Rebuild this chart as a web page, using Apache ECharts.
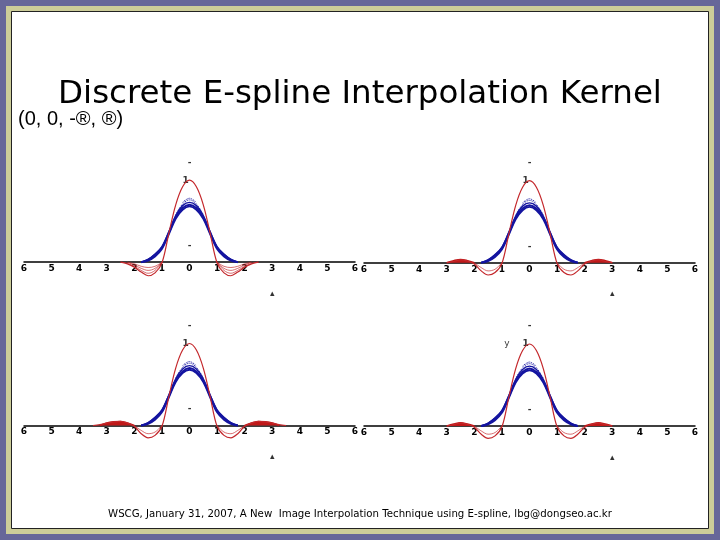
<!DOCTYPE html>
<html>
<head>
<meta charset="utf-8">
<script src="https://cdn.jsdelivr.net/npm/echarts@6/dist/echarts.min.js"></script>
<style>html,body{margin:0;padding:0;background:#666699;}#c{width:720px;height:540px;}</style>
</head>
<body>
<div id="c"></div>
<script>
// ---- data ----
const titleText = 'Discrete E-spline Interpolation Kernel';
const subtitleText = '(0, 0, -®, ®)';
const footerText = 'WSCG, January 31, 2007, A New  Image Interpolation Technique using E-spline, lbg@dongseo.ac.kr';

const xs = [-3.5,-3.25,-3,-2.75,-2.5,-2.25,-2,-1.75,-1.5,-1.25,-1,-0.75,-0.5,-0.25,0,0.25,0.5,0.75,1,1.25,1.5,1.75,2,2.25,2.5,2.75,3,3.25,3.5];

// blue family (same in every panel)
const blueA = [null,null,null,null,null,null,null,0,0.03,0.09,0.18,0.36,0.55,0.66,0.70,0.66,0.55,0.36,0.18,0.09,0.03,0,null,null,null,null,null,null,null];
const blueB = [null,null,null,null,null,null,null,0,0.02,0.07,0.16,0.34,0.53,0.64,0.68,0.64,0.53,0.34,0.16,0.07,0.02,0,null,null,null,null,null,null,null];
const blueC = [null,null,null,null,null,null,null,0,0.035,0.10,0.19,0.37,0.57,0.69,0.73,0.69,0.57,0.37,0.19,0.10,0.035,0,null,null,null,null,null,null,null];
const blueDot1 = [null,null,null,null,null,null,null,null,null,null,null,null,0.58,0.71,0.76,0.71,0.58,null,null,null,null,null,null,null,null,null,null,null,null];
const blueDot2 = [null,null,null,null,null,null,null,null,null,null,null,null,null,0.73,0.78,0.73,null,null,null,null,null,null,null,null,null,null,null,null,null];

// panel 1 (top-left)
const redTL = [null,null,null,null,0,-0.02,-0.06,-0.12,-0.165,-0.13,-0.01,0.35,0.70,0.92,1.0,0.92,0.70,0.35,-0.01,-0.13,-0.165,-0.12,-0.06,-0.02,0,null,null,null,null];
const hatchTL1 = [null,null,null,null,0,-0.015,-0.05,-0.10,-0.135,-0.10,0,null,null,null,null,null,null,null,0,-0.10,-0.135,-0.10,-0.05,-0.015,0,null,null,null,null];
const hatchTL2 = [null,null,null,null,null,0,-0.035,-0.075,-0.10,-0.075,0,null,null,null,null,null,null,null,0,-0.075,-0.10,-0.075,-0.035,0,null,null,null,null,null];
const hatchTL3 = [null,null,null,null,null,0,-0.02,-0.05,-0.065,-0.05,0,null,null,null,null,null,null,null,0,-0.05,-0.065,-0.05,-0.02,0,null,null,null,null,null];

// panel 2 (top-right)
const redTR = [null,null,0,0.015,0.035,0.02,-0.015,-0.10,-0.15,-0.12,-0.01,0.35,0.70,0.92,1.0,0.92,0.70,0.35,-0.01,-0.12,-0.15,-0.10,-0.015,0.02,0.035,0.015,0,null,null];
const lobeTR = [null,null,null,null,null,null,0,-0.06,-0.10,-0.08,0,null,null,null,null,null,null,null,0,-0.08,-0.10,-0.06,0,null,null,null,null,null,null];
const bumpTR = [null,null,0,0.025,0.04,0.025,0,null,null,null,null,null,null,null,null,null,null,null,null,null,null,null,0,0.025,0.04,0.025,0,null,null];

// panel 3 (bottom-left)
const redBL = [0,0.01,0.03,0.045,0.05,0.03,-0.01,-0.10,-0.15,-0.12,-0.01,0.35,0.70,0.92,1.0,0.92,0.70,0.35,-0.01,-0.12,-0.15,-0.10,-0.01,0.03,0.05,0.045,0.03,0.01,0];
const lobeBL = [null,null,null,null,null,null,0,-0.06,-0.10,-0.08,0,null,null,null,null,null,null,null,0,-0.08,-0.10,-0.06,0,null,null,null,null,null,null];
const bumpBL = [null,0,0.03,0.045,0.05,0.03,0,null,null,null,null,null,null,null,null,null,null,null,null,null,null,null,0,0.03,0.05,0.045,0.03,0,null];

// panel 4 (bottom-right)
const redBR = [null,null,0,0.015,0.035,0.02,-0.015,-0.10,-0.15,-0.12,-0.01,0.35,0.70,0.92,1.0,0.92,0.70,0.35,-0.01,-0.12,-0.15,-0.10,-0.015,0.02,0.035,0.015,0,null,null];
const lobeBR = [null,null,null,null,null,null,0,-0.06,-0.10,-0.08,0,null,null,null,null,null,null,null,0,-0.08,-0.10,-0.06,0,null,null,null,null,null,null];
const bumpBR = [null,null,0,0.025,0.04,0.025,0,null,null,null,null,null,null,null,null,null,null,null,null,null,null,null,0,0.025,0.04,0.025,0,null,null];

// stray small labels seen in each panel
const markX = [0, 0, 3, -0.14];
const markY = [1.22, 0.2, -0.38, 1.0];
const markText = ['-', '-', '▴', '1'];
const extraBRX = [-0.82];
const extraBRY = [1.0];
const extraBRText = ['y'];

// ---- build ----
const BLUE = '#1414a0', RED = '#c4282c', RED_FILL = '#c01818';
const pair = (v) => xs.map((x, i) => [x, v[i] == null ? '-' : v[i]]);

// grid bottom edge sits on y = 0 (the drawn axis line)
const grids = [
  {left: 24, top: 155.6, width: 331, height: 106.6},
  {left: 364, top: 156.1, width: 331, height: 106.6},
  {left: 24, top: 318.9, width: 331, height: 106.6},
  {left: 364, top: 319.4, width: 331, height: 106.6}
];
const xAxes = grids.map((g, i) => ({
  gridIndex: i, type: 'value', min: -6, max: 6, interval: 1, position: 'bottom',
  axisLine: {onZero: false, lineStyle: {color: '#000', width: 1.5}},
  axisTick: {show: false},
  splitLine: {show: false},
  axisLabel: {formatter: v => String(Math.abs(v)), fontSize: 9, fontWeight: 'bold', color: '#000', margin: 2, fontFamily: 'DejaVu Sans'}
}));
const yAxes = grids.map((g, i) => ({gridIndex: i, type: 'value', min: 0, max: 1.3, show: false}));

const series = [];
function line(i, v, opts) {
  series.push(Object.assign({
    type: 'line', xAxisIndex: i, yAxisIndex: i, data: pair(v), showSymbol: false,
    smooth: 0.35, silent: true, connectNulls: false, clip: false
  }, opts));
}
const panels = [
  {red: redTL, extras: [hatchTL1, hatchTL2, hatchTL3], bump: null},
  {red: redTR, extras: [lobeTR], bump: bumpTR},
  {red: redBL, extras: [lobeBL], bump: bumpBL},
  {red: redBR, extras: [lobeBR], bump: bumpBR}
];
panels.forEach((p, i) => {
  line(i, blueB, {lineStyle: {color: BLUE, width: 1.8}});
  line(i, blueA, {lineStyle: {color: BLUE, width: 2}});
  line(i, blueC, {lineStyle: {color: BLUE, width: 1.4}});
  line(i, blueDot1, {lineStyle: {color: BLUE, width: 1, type: 'dotted'}});
  line(i, blueDot2, {lineStyle: {color: BLUE, width: 1, type: 'dotted'}});
  if (p.bump) line(i, p.bump, {lineStyle: {color: RED_FILL, width: 1.5}, areaStyle: {color: RED_FILL, opacity: 1}});
  p.extras.forEach(e => line(i, e, {lineStyle: {color: RED, width: 0.8, opacity: 0.85}}));
  line(i, p.red, {lineStyle: {color: RED, width: 1.2}});
  series.push({
    type: 'scatter', xAxisIndex: i, yAxisIndex: i, symbolSize: 0, silent: true, clip: false,
    data: markX.map((x, k) => ({value: [x, markY[k]], name: markText[k]})),
    label: {show: true, position: 'inside', formatter: d => d.name, color: '#000', fontSize: 9, fontWeight: 'bold', fontFamily: 'DejaVu Sans'}
  });
});
series.push({
  type: 'scatter', xAxisIndex: 3, yAxisIndex: 3, symbolSize: 0, silent: true, clip: false,
  data: extraBRX.map((x, k) => ({value: [x, extraBRY[k]], name: extraBRText[k]})),
  label: {show: true, position: 'inside', formatter: d => d.name, color: '#000', fontSize: 9, fontFamily: 'DejaVu Sans'}
});

const chart = echarts.init(document.getElementById('c'), null, {renderer: 'canvas'});
chart.setOption({
  animation: false,
  backgroundColor: '#666699',
  graphic: [
    {type: 'rect', z: -10, shape: {x: 6, y: 6, width: 708, height: 528}, style: {fill: '#cccc99'}},
    {type: 'rect', z: -9, shape: {x: 11.5, y: 11.5, width: 697, height: 517}, style: {fill: '#ffffff', stroke: '#222222', lineWidth: 1}},
    {type: 'text', z: 10, x: 360, y: 95, style: {text: titleText, font: '32.5px "DejaVu Sans"', fill: '#000', textAlign: 'center', textVerticalAlign: 'middle'}},
    {type: 'text', z: 10, x: 18, y: 119, style: {text: subtitleText, font: '20px "Liberation Sans"', fill: '#000', textAlign: 'left', textVerticalAlign: 'middle'}},
    {type: 'text', z: 10, x: 360, y: 514, style: {text: footerText, font: '10.2px "DejaVu Sans"', fill: '#000', textAlign: 'center', textVerticalAlign: 'middle'}}
  ],
  grid: grids,
  xAxis: xAxes,
  yAxis: yAxes,
  series: series
});
</script>
</body>
</html>
